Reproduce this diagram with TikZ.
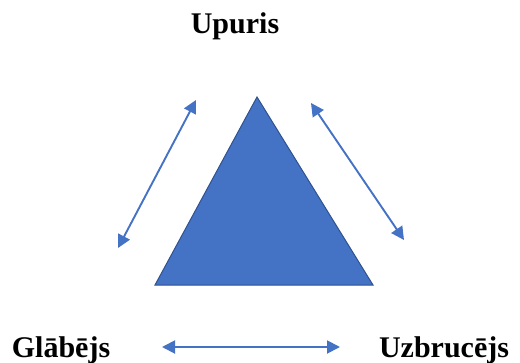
\documentclass[tikz,border=0pt]{standalone}
\usepackage{fontspec}
\setmainfont{Liberation Serif}
\usetikzlibrary{arrows.meta}
\definecolor{accent}{HTML}{4472C4}
\definecolor{accentdark}{HTML}{2F528F}
\tikzset{
  lbl/.style={font=\fontsize{30}{34}\selectfont\bfseries, inner sep=0pt, anchor=base},
  rel/.style={draw=accent, line width=1.9pt, {Triangle[length=13pt,width=13pt]}-{Triangle[length=13pt,width=13pt]}},
}
\begin{document}
\begin{tikzpicture}[x=1pt,y=-1pt]
\useasboundingbox (0,0) rectangle (520,362);
\draw[fill=accent, draw=accentdark, line width=1pt] (257,97) -- (155,285) -- (373,285) -- cycle;
\node[lbl] (up) at (235,33) {Upuris};
\node[lbl] (gl) at (61,357) {Glābējs};
\node[lbl] (uz) at (444,357) {Uzbrucējs};
\coordinate (a1) at (196,100);
\coordinate (a2) at (118,248);
\coordinate (b1) at (311,103);
\coordinate (b2) at (404,240);
\coordinate (c1) at (162,347);
\coordinate (c2) at (340,347);
\draw[rel] (a1) -- (a2);
\draw[rel] (b1) -- (b2);
\draw[rel] (c1) -- (c2);
\end{tikzpicture}
\end{document}
